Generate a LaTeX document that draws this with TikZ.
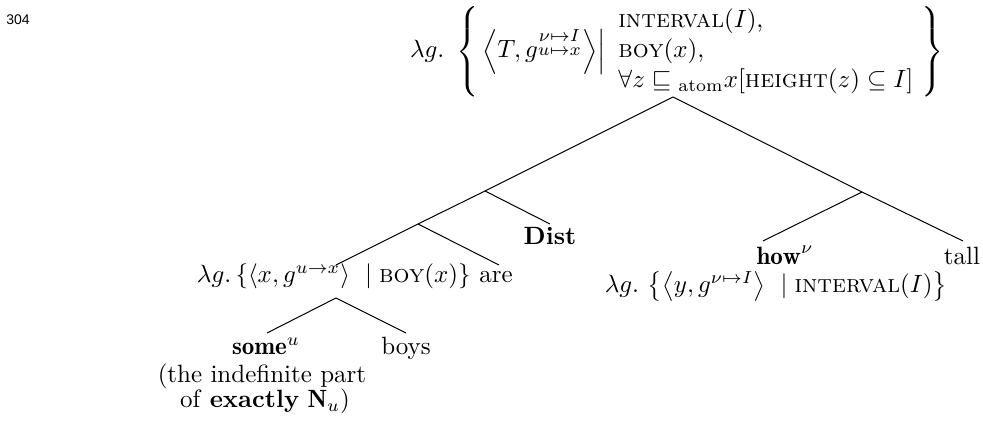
\documentclass[tikz,border=0pt]{standalone}
\usepackage{amsmath,amssymb}
\usepackage{fontspec}
\newfontfamily\pagenumfont{Liberation Sans}
\tikzset{
  lbl/.style={inner sep=0pt, outer sep=0pt},
  branch/.style={draw=black, line width=0.4pt}
}
\begin{document}
\begin{tikzpicture}[x=0.4pt,y=-0.4pt]
\useasboundingbox (0,0) rectangle (983,425);
% page number
\node[lbl, anchor=base] (pnum) at (18,25) {\pagenumfont\fontsize{5.6pt}{6pt}\selectfont 304};
% root label
\node[lbl, anchor=base west] (root) at (410,58)
  {$\lambda g.\ \left\{\left.\left\langle T, g^{\substack{\nu\mapsto I\\ u\mapsto x}}\right\rangle\right|\ \begin{array}{@{}l@{}}\textsc{interval}(I),\\ \textsc{boy}(x),\\ \forall z\sqsubseteq{}_{\mathrm{atom}}x[\textsc{height}(z)\subseteq I]\end{array}\ \right\}$};
% branch points and line ends
\coordinate (top) at (673,97);
\coordinate (n1) at (485,191);
\coordinate (distend) at (550,224);
\coordinate (n2) at (418,224);
\coordinate (dpend) at (336,265);
\coordinate (areend) at (499,265);
\coordinate (n3) at (862,192);
\coordinate (howend) at (763,241);
\coordinate (tallend) at (963,241);
\coordinate (n4) at (336,298);
\coordinate (someend) at (267,333);
\coordinate (boysend) at (406,333);
% leaves and labels
\node[lbl, anchor=base] (dist) at (550,245) {\textbf{Dist}};
\node[lbl, anchor=base west] (dp) at (197,283)
  {$\lambda g.\,\{\langle x, g^{u\rightarrow x}\rangle\ \mid \textsc{boy}(x)\}$};
\node[lbl, anchor=base] (are) at (496,283) {are};
\node[lbl, anchor=base] (how) at (785,265) {$\mathbf{how}^{\nu}$};
\node[lbl, anchor=base] (howsem) at (776,293)
  {$\lambda g.\ \bigl\{\bigl\langle y, g^{\nu\mapsto I}\bigr\rangle\ \mid \textsc{interval}(I)\bigr\}$};
\node[lbl, anchor=base] (tall) at (962,265) {tall};
\node[lbl, anchor=base] (some) at (266,355) {$\mathbf{some}^{u}$};
\node[lbl, anchor=base] (boys) at (406,355) {boys};
\node[lbl, anchor=base] (note1) at (262,383) {(the indefinite part};
\node[lbl, anchor=base] (note2) at (265,408) {of \textbf{exactly} $\mathbf{N}_{u}$)};
% connectors
\draw[branch] (top) -- (n1) -- (n2) -- (dpend);
\draw[branch] (n1) -- (distend);
\draw[branch] (n2) -- (areend);
\draw[branch] (top) -- (n3) -- (tallend);
\draw[branch] (n3) -- (howend);
\draw[branch] (n4) -- (someend);
\draw[branch] (n4) -- (boysend);
\end{tikzpicture}
\end{document}
